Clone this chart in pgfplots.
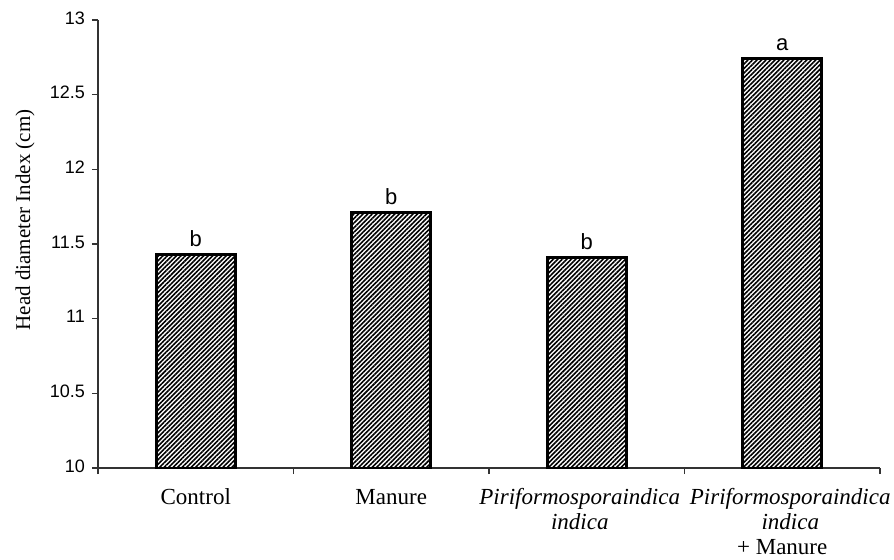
\documentclass[border=0pt]{standalone}
\usepackage{fontspec}
\setmainfont{Liberation Serif}
\newfontfamily\arial{Liberation Sans}
\usepackage{pgfplots}
\pgfplotsset{compat=1.18}
\usetikzlibrary{patterns.meta}
\begin{document}
\begin{tikzpicture}
\begin{axis}[
    scale only axis,
    width=391pt,
    height=224pt,
    xmin=-0.5, xmax=3.5,
    ymin=10, ymax=13,
    axis x line*=bottom,
    axis y line*=left,
    axis line style={black!80, line width=0.6pt, -},
    xtick={0,1,2,3},
    xticklabels={Control, Manure, \hspace*{-7pt}\textit{Piriformosporaindica}\\\hspace*{-7pt}\textit{indica}, \hspace*{8pt}\textit{Piriformosporaindica}\\\hspace*{8pt}\textit{indica}\\+ Manure},
    typeset ticklabels with strut,
    x tick label style={align=center, font=\fontsize{11.5}{12.5}\selectfont, yshift=-3pt},
    major x tick style={draw=none},
    minor xtick={-0.5,0.5,1.5,2.5,3.5},
    minor x tick style={black!80, line width=0.6pt},
    minor tick length=3pt,
    ytick={10,10.5,...,13},
    y tick label style={font=\arial\fontsize{9}{10}\selectfont},
    y tick style={black!80, line width=0.6pt},
    major tick length=3pt,
    tick align=outside,
    /pgf/number format/assume math mode=true,
    ylabel={Head diameter Index (cm)},
    ylabel style={font=\fontsize{10.5}{12}\selectfont, at={(axis description cs:-0.0934,0.5536)}, anchor=center, rotate=0},
    ybar,
    bar width=39.5pt,
    nodes near coords,
    point meta=explicit symbolic,
    nodes near coords style={font=\arial\fontsize{11}{12}\selectfont},
]
\addplot[draw=black, line width=1.4pt,
    pattern={Lines[angle=45, distance=1.6pt, line width=0.8pt]}, pattern color=black]
    coordinates {
        (0, 11.43) [b]
        (1, 11.71) [b]
        (2, 11.41) [b]
        (3, 12.74) [a]
    };
\end{axis}
\pgfresetboundingbox
\path (-49pt,-45.5pt) rectangle (398pt,234pt);
\end{tikzpicture}
\end{document}
